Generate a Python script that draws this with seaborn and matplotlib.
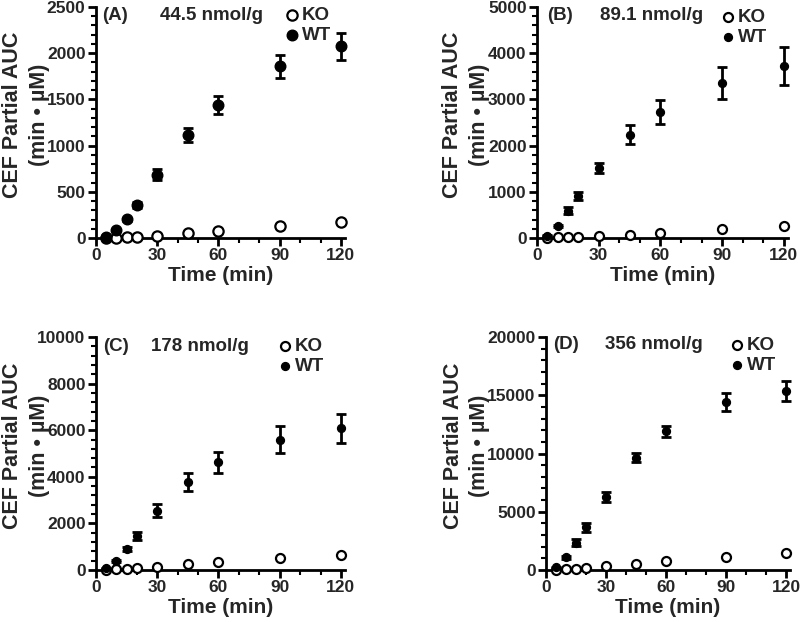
import numpy as np
import pandas as pd
import matplotlib
matplotlib.use("Agg")
import matplotlib.pyplot as plt
import seaborn as sns
from matplotlib.ticker import MultipleLocator, AutoMinorLocator

sns.set_theme(style="ticks")
plt.rcParams['font.family'] = ['Liberation Sans', 'DejaVu Sans']
plt.rcParams['font.weight'] = 'bold'

time = [5, 10, 15, 20, 30, 45, 60, 90, 120]

A_wt = [14, 87, 202, 358, 686, 1116, 1438, 1857, 2074]
A_wt_err = [5, 10, 15, 36, 58, 76, 98, 128, 145]
A_ko = [5, 5, 8, 12, 25, 51, 80, 126, 173]

B_wt = [50, 260, 594, 913, 1522, 2239, 2732, 3355, 3725]
B_wt_err = [15, 30, 72, 90, 112, 210, 254, 340, 406]
B_ko = [10, 15, 20, 30, 43, 72, 116, 188, 261]

C_wt = [71, 400, 886, 1457, 2543, 3786, 4620, 5600, 6080]
C_wt_err = [20, 40, 80, 186, 280, 386, 457, 571, 621]
C_ko = [20, 40, 60, 100, 143, 243, 343, 514, 643]

D_wt = [229, 1086, 2343, 3657, 6286, 9629, 11900, 14400, 15400]
D_wt_err = [60, 150, 286, 371, 429, 400, 457, 786, 857]
D_ko = [30, 50, 80, 150, 314, 486, 771, 1114, 1486]

panel_labels = ["(A)", "(B)", "(C)", "(D)"]
doses = ["44.5 nmol/g", "89.1 nmol/g", "178 nmol/g", "356 nmol/g"]
y_max = [2500, 5000, 10000, 20000]
y_major = [500, 1000, 2000, 5000]
x_ticks = [0, 30, 60, 90, 120]

panels = [
    (A_wt, A_wt_err, A_ko),
    (B_wt, B_wt_err, B_ko),
    (C_wt, C_wt_err, C_ko),
    (D_wt, D_wt_err, D_ko),
]

fig = plt.figure(figsize=(8, 6.22), dpi=100)
rects = [
    [96/800, 1-238/622, 249/800, 231/622],
    [537/800, 1-238/622, 251/800, 231/622],
    [96/800, 1-570/622, 249/800, 233/622],
    [546/800, 1-570/622, 244/800, 233/622],
]
label_x = [-0.185, -0.187, -0.185, -0.228]
msize_wt = [58, 32, 32, 32]
msize_ko = [55, 42, 42, 42]
tag_x = [0.024, 0.04, 0.028, 0.029]
dose_x = [0.464, 0.456, 0.418, 0.443]
title_y = [0.965, 0.965, 0.958, 0.966]
leg_x = [0.763, 0.737, 0.735, 0.758]
leg_y = [0.922, 0.913, 0.916, 0.92]

for i, (wt, wt_err, ko) in enumerate(panels):
    ax = fig.add_axes(rects[i])
    df = pd.DataFrame({"time": time, "WT": wt, "KO": ko})
    ax.errorbar(df["time"], df["WT"], yerr=wt_err, fmt='none', ecolor='black',
                elinewidth=2, capsize=3.8, capthick=2, zorder=2, clip_on=False)
    sns.scatterplot(data=df, x="time", y="KO", ax=ax, marker='o', s=msize_ko[i],
                    facecolor='white', edgecolor='black', linewidth=1.6,
                    zorder=3, clip_on=False, label="KO")
    sns.scatterplot(data=df, x="time", y="WT", ax=ax, marker='o', s=msize_wt[i],
                    color='black', edgecolor='black', linewidth=1,
                    zorder=4, clip_on=False, label="WT")
    ax.set_xlim(0, 122)
    ax.set_ylim(0, y_max[i])
    ax.set_xticks(x_ticks)
    ax.xaxis.set_minor_locator(MultipleLocator(10))
    ax.yaxis.set_major_locator(MultipleLocator(y_major[i]))
    ax.yaxis.set_minor_locator(AutoMinorLocator(5))
    for s in ['top', 'right']:
        ax.spines[s].set_visible(False)
    for s in ['left', 'bottom']:
        ax.spines[s].set_linewidth(2)
        ax.spines[s].set_color('black')
    ax.tick_params(axis='both', which='major', length=6, width=2, labelsize=12.5,
                   pad=1.5, color='black')
    ax.tick_params(axis='both', which='minor', length=3.5, width=1.5, color='black')
    for lab in ax.get_xticklabels() + ax.get_yticklabels():
        lab.set_fontweight('bold')
    ax.set_xlabel("Time (min)", fontsize=15, fontweight='bold', labelpad=2)
    ax.set_ylabel("CEF Partial AUC\n(min \u2022 \u00b5M)", fontsize=15.5,
                  fontweight='bold', linespacing=1.35)
    ax.yaxis.set_label_coords(label_x[i], 0.535)
    ax.text(tag_x[i], title_y[i], panel_labels[i], transform=ax.transAxes,
            fontsize=13.5, fontweight='bold', ha='left', va='center')
    ax.text(dose_x[i], title_y[i], doses[i], transform=ax.transAxes,
            fontsize=13.5, fontweight='bold', ha='center', va='center')
    ax.legend(loc='center left', bbox_to_anchor=(leg_x[i], leg_y[i]),
              frameon=False, handlelength=0.6, handletextpad=0.25,
              borderaxespad=0, borderpad=0, labelspacing=0.15,
              prop={'weight': 'bold', 'size': 13.5})

fig.savefig("out.png", dpi=100)
